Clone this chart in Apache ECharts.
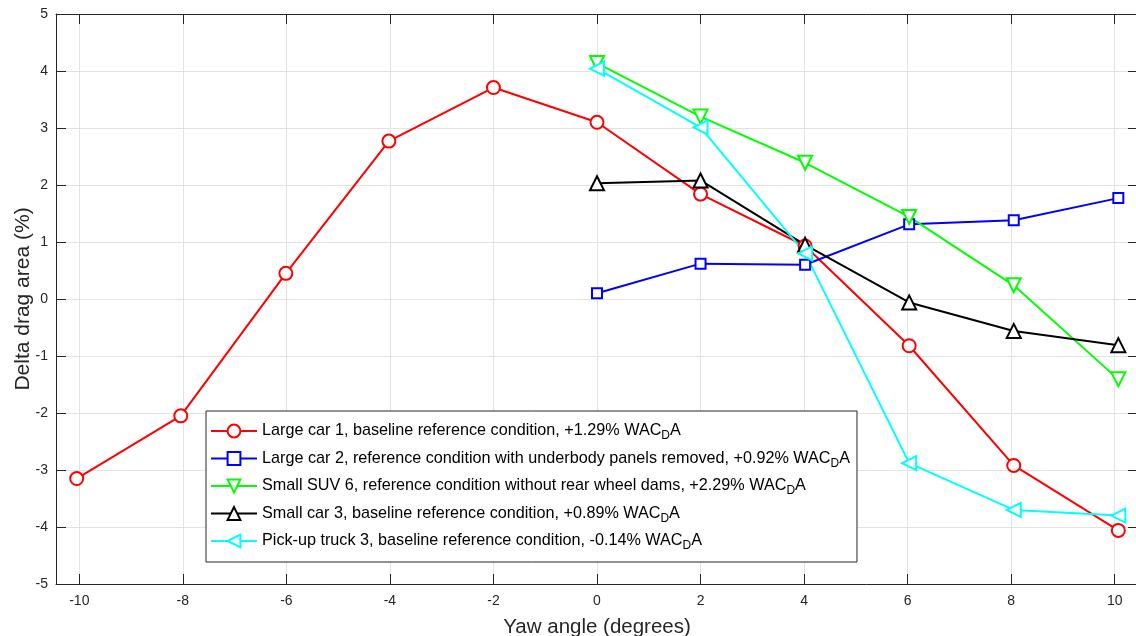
<!DOCTYPE html>
<html>
<head>
<meta charset="utf-8">
<script src="https://cdn.jsdelivr.net/npm/echarts@6/dist/echarts.min.js"></script>
<style>
  html, body { margin: 0; padding: 0; background: #fff; }
  #chart { width: 1136px; height: 636px; }
</style>
</head>
<body>
<div id="chart"></div>
<script>
// Yaw angle sweep (degrees) and drag-area change (%) per vehicle
const xTicks = [-10, -8, -6, -4, -2, 0, 2, 4, 6, 8, 10];
const yawLargeCar1 = [-10.05, -8.04, -6.01, -4.02, -2.0, 0.0, 2.0, 4.02, 6.03, 8.05, 10.07];
const yawOthers = [0.0, 2.0, 4.02, 6.03, 8.05, 10.07];

const largeCar1 = [-3.15, -2.05, 0.45, 2.77, 3.71, 3.10, 1.84, 0.93, -0.82, -2.92, -4.06];
const largeCar2 = [0.10, 0.62, 0.60, 1.31, 1.38, 1.77];
const smallSuv6 = [4.14, 3.20, 2.39, 1.44, 0.24, -1.41];
const smallCar3 = [2.03, 2.08, 0.95, -0.06, -0.56, -0.81];
const pickup3 = [4.04, 3.01, 0.80, -2.88, -3.70, -3.80];

const seriesNames = [
  'Large car 1, baseline reference condition, +1.29% WAC',
  'Large car 2, reference condition with underbody panels removed, +0.92% WAC',
  'Small SUV 6, reference condition without rear wheel dams, +2.29% WAC',
  'Small car 3, baseline reference condition, +0.89% WAC',
  'Pick-up truck 3, baseline reference condition, -0.14% WAC'
];

const FONT = '"Liberation Sans", Arial, Helvetica, sans-serif';
const AXIS_COLOR = '#262626';

function pairs(xs, ys) { return xs.map((x, i) => [x, ys[i]]); }

function makeSeries(name, xs, ys, color, symbol, size, rotate) {
  return {
    name: name,
    type: 'line',
    data: pairs(xs, ys),
    symbol: symbol,
    symbolSize: size,
    symbolRotate: rotate || 0,
    showAllSymbol: true,
    color: color,
    lineStyle: { color: color, width: 2 },
    itemStyle: { color: '#ffffff', borderColor: color, borderWidth: 2 },
    emphasis: { disabled: true },
    xAxisIndex: 0,
    yAxisIndex: 0
  };
}

const chart = echarts.init(document.getElementById('chart'), null, { renderer: 'canvas' });

const xMin = -10.45, xMax = 10.45;

chart.setOption({
  animation: false,
  backgroundColor: '#ffffff',
  grid: { left: 56, right: -2, top: 14, bottom: 52, containLabel: false, outerBoundsMode: 'none' },
  xAxis: [
    {
      type: 'value', min: xMin, max: xMax, position: 'bottom',
      name: 'Yaw angle (degrees)', nameLocation: 'middle', nameGap: 33,
      nameTextStyle: { fontFamily: FONT, fontSize: 20.5, color: AXIS_COLOR },
      axisLine: { show: true, onZero: false, lineStyle: { color: AXIS_COLOR, width: 1 } },
      axisTick: { show: true, inside: true, length: 10, customValues: xTicks, lineStyle: { color: AXIS_COLOR } },
      axisLabel: { customValues: xTicks, margin: 10, fontFamily: FONT, fontSize: 14, color: AXIS_COLOR },
      splitLine: { show: true, lineStyle: { color: '#e3e3e3', width: 1 } }
    },
    {
      type: 'value', min: xMin, max: xMax, position: 'top',
      axisLine: { show: true, onZero: false, lineStyle: { color: AXIS_COLOR, width: 1 } },
      axisTick: { show: true, inside: true, length: 10, customValues: xTicks, lineStyle: { color: AXIS_COLOR } },
      axisLabel: { show: false },
      splitLine: { show: false }
    }
  ],
  yAxis: [
    {
      type: 'value', min: -5, max: 5, interval: 1, position: 'left',
      name: 'Delta drag area (%)', nameLocation: 'middle', nameGap: 22, nameMoveOverlap: false,
      nameTextStyle: { fontFamily: FONT, fontSize: 21, color: AXIS_COLOR },
      axisLine: { show: true, onZero: false, lineStyle: { color: AXIS_COLOR, width: 1 } },
      axisTick: { show: true, inside: true, length: 10, lineStyle: { color: AXIS_COLOR } },
      axisLabel: { margin: 8, fontFamily: FONT, fontSize: 14, color: AXIS_COLOR },
      splitLine: { show: true, lineStyle: { color: '#e3e3e3', width: 1 } }
    },
    {
      type: 'value', min: -5, max: 5, interval: 1, position: 'right',
      axisLine: { show: true, onZero: false, lineStyle: { color: AXIS_COLOR, width: 1 } },
      axisTick: { show: true, inside: true, length: 10, lineStyle: { color: AXIS_COLOR } },
      axisLabel: { show: false },
      splitLine: { show: false }
    }
  ],
  legend: {
    orient: 'vertical',
    left: 206, top: 411,
    padding: [12, 7, 10, 4],
    itemWidth: 46, itemHeight: 16, itemGap: 8.5,
    backgroundColor: '#ffffff',
    borderColor: AXIS_COLOR, borderWidth: 1, borderRadius: 0,
    data: seriesNames,
    formatter: name => '{t|' + name + '}{s|D}{t|A}',
    textStyle: {
      fontFamily: FONT, fontSize: 16.2, color: '#000000',
      rich: {
        t: { fontFamily: FONT, fontSize: 16.2, color: '#000000' },
        s: { fontFamily: FONT, fontSize: 12, color: '#000000', padding: [10, 0, 0, 0] }
      }
    }
  },
  series: [
    makeSeries(seriesNames[0], yawLargeCar1, largeCar1, '#ff0000', 'circle', 13),
    makeSeries(seriesNames[1], yawOthers, largeCar2, '#0000ff', 'rect', 10),
    makeSeries(seriesNames[2], yawOthers, smallSuv6, '#00ff00', 'triangle', 14, 180),
    makeSeries(seriesNames[3], yawOthers, smallCar3, '#000000', 'triangle', 14),
    makeSeries(seriesNames[4], yawOthers, pickup3, '#00ffff', 'triangle', 14, 90)
  ]
});
</script>
</body>
</html>
